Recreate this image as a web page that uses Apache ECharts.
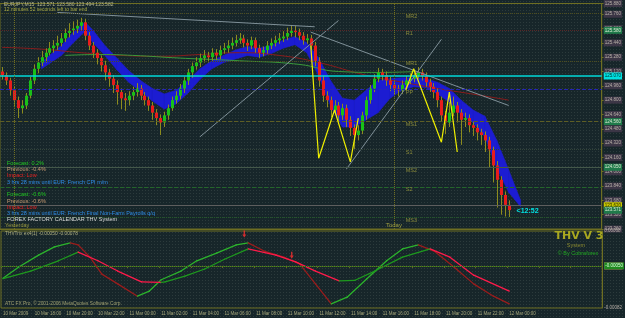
<!DOCTYPE html>
<html>
<head>
<meta charset="utf-8">
<script src="https://cdn.jsdelivr.net/npm/echarts@6/dist/echarts.min.js"></script>
<style>
  html, body { margin: 0; padding: 0; background: #16252a; }
  #chart { width: 625px; height: 318px; }
</style>
</head>
<body>
<div id="chart"></div>
<script>
// EURJPY M15, one bar per 15 minutes starting 10 Mar 16:00
const tickLabels = ['10 Mar 2009', '10 Mar 18:00', '10 Mar 20:00', '10 Mar 22:00', '11 Mar 00:00', '11 Mar 02:00',
  '11 Mar 04:00', '11 Mar 06:00', '11 Mar 08:00', '11 Mar 10:00', '11 Mar 12:00', '11 Mar 14:00',
  '11 Mar 16:00', '11 Mar 18:00', '11 Mar 20:00', '11 Mar 22:00', '12 Mar 00:00'];

const opens = [125.12,125.08,125.02,124.91,124.80,124.71,124.74,124.85,125.02,125.15,
  125.22,125.28,125.33,125.38,125.41,125.44,125.49,125.55,125.58,125.60,
  125.63,125.67,125.52,125.41,125.33,125.27,125.19,125.11,125.04,124.97,
  124.89,124.82,124.80,124.85,124.89,124.93,124.85,124.80,124.74,124.66,
  124.60,124.55,124.63,124.71,124.80,124.85,124.93,125.02,125.11,125.18,
  125.22,125.27,125.30,125.28,125.33,125.30,125.36,125.38,125.41,125.44,
  125.47,125.49,125.44,125.41,125.47,125.38,125.33,125.36,125.41,125.44,
  125.47,125.49,125.51,125.55,125.58,125.56,125.52,125.47,125.49,125.41,
  125.24,125.02,124.85,124.80,124.69,124.74,124.63,124.71,124.58,124.49,
  124.41,124.46,124.63,124.80,124.93,125.04,125.11,125.08,125.02,124.97,
  124.93,124.91,124.97,125.02,125.04,125.08,125.11,125.07,125.00,124.95,
  124.89,124.80,124.63,124.55,124.66,124.74,124.66,124.58,124.60,124.52,
  124.49,124.44,124.41,124.35,124.24,124.07,123.91,123.74,123.63];
const closes = [125.08,125.02,124.91,124.80,124.71,124.74,124.85,125.02,125.15,125.22,
  125.28,125.33,125.38,125.41,125.44,125.49,125.55,125.58,125.60,125.63,
  125.67,125.52,125.41,125.33,125.27,125.19,125.11,125.04,124.97,124.89,
  124.82,124.80,124.85,124.89,124.93,124.85,124.80,124.74,124.66,124.60,
  124.55,124.63,124.71,124.80,124.85,124.93,125.02,125.11,125.18,125.22,
  125.27,125.30,125.28,125.33,125.30,125.36,125.38,125.41,125.44,125.47,
  125.49,125.44,125.41,125.47,125.38,125.33,125.36,125.41,125.44,125.47,
  125.49,125.51,125.55,125.58,125.56,125.52,125.47,125.49,125.41,125.24,
  125.02,124.85,124.80,124.69,124.74,124.63,124.71,124.58,124.49,124.41,
  124.46,124.63,124.80,124.93,125.04,125.11,125.08,125.02,124.97,124.93,
  124.91,124.97,125.02,125.04,125.08,125.11,125.07,125.00,124.95,124.89,
  124.80,124.63,124.55,124.66,124.74,124.66,124.58,124.60,124.52,124.49,
  124.44,124.41,124.35,124.24,124.07,123.91,123.74,123.63,123.571];
const highs = [125.17,125.11,125.05,124.95,124.84,124.80,124.88,125.06,125.20,125.28,
  125.35,125.38,125.45,125.47,125.52,125.55,125.60,125.66,125.68,125.70,
  125.72,125.71,125.56,125.45,125.37,125.30,125.24,125.15,125.08,125.02,
  124.93,124.88,124.90,124.95,124.99,124.97,124.89,124.84,124.78,124.70,
  124.64,124.67,124.75,124.84,124.90,124.98,125.06,125.15,125.22,125.28,
  125.32,125.36,125.34,125.38,125.37,125.41,125.44,125.47,125.50,125.53,
  125.55,125.53,125.48,125.51,125.50,125.42,125.40,125.46,125.49,125.52,
  125.55,125.57,125.61,125.64,125.63,125.60,125.56,125.54,125.53,125.45,
  125.28,125.07,124.90,124.84,124.80,124.78,124.76,124.75,124.62,124.53,
  124.52,124.67,124.84,124.97,125.09,125.16,125.15,125.12,125.06,125.01,
  124.97,125.02,125.07,125.10,125.13,125.17,125.15,125.11,125.04,124.99,
  124.93,124.84,124.68,124.78,124.84,124.78,124.70,124.66,124.64,124.56,
  124.53,124.48,124.45,124.39,124.28,124.12,123.95,123.78,123.68];
const lows = [125.03,124.97,124.85,124.72,124.60,124.65,124.70,124.82,124.98,125.10,
  125.18,125.22,125.30,125.33,125.36,125.40,125.45,125.50,125.53,125.55,
  125.58,125.47,125.36,125.27,125.20,125.12,125.02,124.95,124.88,124.75,
  124.70,124.68,124.74,124.80,124.84,124.80,124.74,124.68,124.58,124.52,
  124.41,124.50,124.58,124.68,124.76,124.81,124.88,124.97,125.05,125.14,
  125.17,125.22,125.22,125.24,125.25,125.26,125.32,125.33,125.37,125.40,
  125.43,125.39,125.35,125.37,125.33,125.27,125.29,125.32,125.37,125.40,
  125.43,125.45,125.47,125.51,125.50,125.47,125.42,125.43,125.36,125.18,
  124.95,124.78,124.72,124.61,124.64,124.55,124.58,124.50,124.40,124.24,
  124.35,124.42,124.58,124.76,124.89,125.00,125.02,124.96,124.90,124.86,
  124.84,124.87,124.93,124.98,125.00,125.04,125.02,124.95,124.89,124.82,
  124.72,124.56,124.42,124.50,124.62,124.55,124.30,124.50,124.44,124.40,
  124.35,124.30,124.22,124.05,123.88,123.60,123.52,123.50,123.494];

// blue THV cloud
const bandIdx = [10,12,15,18,21,23,26,29,32,35,38,41,44,47,50,53,56,59,62,65,68,71,74,77,80,83,86,89,92,95,98,101,104,107,110,113,116,119,122,125,128,131];
const bandTop = [125.22,125.30,125.41,125.56,125.67,125.58,125.41,125.27,125.13,125.02,124.93,124.87,124.91,125.02,125.15,125.24,125.30,125.36,125.40,125.38,
  125.41,125.47,125.51,125.44,125.27,125.02,124.82,124.80,124.91,125.02,125.04,125.05,125.05,125.04,125.00,124.93,124.80,124.69,124.62,124.35,124.02,123.68];
const bandBot = [125.15,125.21,125.30,125.44,125.57,125.44,125.30,125.14,125.00,124.90,124.79,124.70,124.76,124.88,125.03,125.15,125.22,125.26,125.30,125.28,
  125.32,125.38,125.42,125.33,125.07,124.74,124.50,124.50,124.58,124.66,124.82,124.91,124.95,124.94,124.87,124.78,124.64,124.55,124.39,124.04,123.77,123.61];

// moving averages
const redMaIdx = [0,10,20,30,40,50,60,70,80,90,95,100,110,120,128];
const redMaVal = [125.39,125.37,125.33,125.30,125.29,125.31,125.33,125.30,125.22,125.10,125.05,125.01,124.93,124.86,124.80];
const greenMaIdx = [16,25,33,45,60,75,85,95,105];
const greenMaVal = [125.30,125.31,125.30,125.27,125.24,125.20,125.12,125.11,125.12];

// trend lines and zigzag, as [bar, price]
const trendLines = [
  [[14, 125.78], [79, 125.62]],
  [[78, 125.56], [128, 124.74]],
  [[50, 124.39], [85, 125.69]],
  [[87, 124.03], [111, 125.48]]
];
const zigzags = [
  [[78, 125.41], [80, 124.15], [84, 124.69], [88, 124.11], [90, 124.60]],
  [[102, 124.91], [104, 125.15], [111, 124.33], [113, 124.89], [115, 124.22]]
];

// pivot levels
const pivotNames = ['MR2', 'R1', 'MR1', 'PP', 'MS1', 'S1', 'MS2', 'S2', 'MS3'];
const pivotPrices = [125.77, 125.58, 125.24, 124.92, 124.56, 124.25, 124.05, 123.83, 123.49];
const cyanLevel = 125.07;
const askLevel = 123.62;
const bidLevel = 123.571;

// THVTrix oscillator
const fastIdx = [0,4,9,13,17,19,22,25,29,34,37,40,45,49,54,59,62,66,71,75,79,83,87,92,97,101,105,109,114,119,124,128];
const fastVal = [-0.00024,-0.00002,0.00021,0.00037,0.00045,0.00041,0.00017,-0.00016,-0.00035,-0.00059,-0.00049,-0.00027,-0.0001,0.0001,0.00025,0.00041,
  0.00045,0.00029,0.00017,0.00004,-0.00035,-0.00074,-0.00061,-0.00025,0.0001,0.00033,0.00041,0.00029,-0.00002,-0.00035,-0.00059,-0.00074];
const slowIdx = [0,7,14,19,24,29,35,40,41,46,51,56,62,69,74,79,85,89,94,101,108,113,119,128];
const slowVal = [-0.00025,-0.0001,0.0001,0.00027,0.0001,-0.0001,-0.00031,-0.00032,-0.00031,-0.0002,-0.00006,0.00013,0.00033,0.00021,0.00008,-0.0001,
  -0.00029,-0.00028,-0.0001,0.00017,0.00033,0.00017,-0.00018,-0.00049];
const sellArrows = [[61, 0.00062], [73, 0.00021]];
const oscLevels = [0.00056, 0, -0.0005];

const nCats = 152;
const categories = Array.from({ length: nCats }, (_, i) => i);

const chart = echarts.init(document.getElementById('chart'));

// dotted terminal backdrop
const dots = document.createElement('canvas');
dots.width = 3; dots.height = 3;
const dctx = dots.getContext('2d');
dctx.fillStyle = '#17262a'; dctx.fillRect(0, 0, 3, 3);
dctx.fillStyle = '#2c3b3c'; dctx.fillRect(1, 1, 1, 1);

const OLIVE = '#6e6e22';
const FONT = 'Liberation Sans';

const candleRows = closes.map((c, i) => [i, opens[i], c, lows[i], highs[i]]);
const bandRows = bandIdx.slice(0, -1).map((x, k) => [x, bandTop[k], bandBot[k], bandIdx[k + 1], bandTop[k + 1], bandBot[k + 1]]);
const segRows = (idx, val) => idx.slice(0, -1).map((x, k) => [x, val[k], idx[k + 1], val[k + 1]]);

function renderCandle(params, api) {
  const i = api.value(0);
  const o = api.value(1), c = api.value(2);
  const top = api.coord([i, Math.max(o, c)]);
  const bot = api.coord([i, Math.min(o, c)]);
  const hi = api.coord([i, api.value(4)]);
  const lo = api.coord([i, api.value(3)]);
  const x = Math.round(top[0]) + 0.5;
  return {
    type: 'group',
    children: [
      { type: 'line', shape: { x1: x, y1: hi[1], x2: x, y2: lo[1] }, style: { stroke: '#8c8c1e', lineWidth: 1 } },
      { type: 'rect', shape: { x: x - 1.5, y: top[1], width: 3, height: Math.max(1, bot[1] - top[1]) },
        style: { fill: c >= o ? '#18c018' : '#e81c1c' } }
    ]
  };
}

function renderBand(params, api) {
  const a1 = api.coord([api.value(0), api.value(1)]);
  const a2 = api.coord([api.value(3), api.value(4)]);
  const b2 = api.coord([api.value(3), api.value(5)]);
  const b1 = api.coord([api.value(0), api.value(2)]);
  return { type: 'polygon', shape: { points: [a1, a2, b2, b1] }, style: { fill: '#1c1cd2', stroke: '#1c1cd2', lineWidth: 0.6 } };
}

function oscRenderer(upColor, downColor) {
  return function (params, api) {
    const p0 = api.coord([api.value(0), api.value(1)]);
    const p1 = api.coord([api.value(2), api.value(3)]);
    return {
      type: 'line',
      shape: { x1: p0[0], y1: p0[1], x2: p1[0], y2: p1[1] },
      style: { stroke: api.value(3) >= api.value(1) ? upColor : downColor, lineWidth: 1.3, lineCap: 'round' }
    };
  };
}

function level(price, color, type, box, textColor, width) {
  return {
    yAxis: price,
    lineStyle: { color, type, width: width || 1 },
    label: box ? {
      show: true, position: 'end', distance: 2, formatter: price.toFixed(3),
      backgroundColor: box, color: textColor, fontSize: 4.5, fontFamily: FONT, padding: [1, 1]
    } : { show: false }
  };
}

const pivotStyles = [
  ['#4e4e1e', 'dotted', null], ['#5a2626', 'dotted', '#1f7a4a'], ['#4e4e1e', 'dotted', null], ['#2626b4', 'dashed', null],
  ['#5e5e24', 'dashed', '#1f7a4a'], ['#33443a', 'dotted', null], ['#44584a', 'solid', '#1f7a4a'],
  ['#24662a', 'dashed', null], ['#245a28', 'dotted', null]
];

const mainMarks = pivotPrices.map((p, k) => level(p, pivotStyles[k][0], pivotStyles[k][1], pivotStyles[k][2], '#d8e8d0'));
mainMarks.push(level(cyanLevel, '#00d8d8', 'solid', '#00e0e0', '#003030', 1.5));
mainMarks.push(level(askLevel, '#5e5e5e', 'solid', '#c8c800', '#202000'));
mainMarks.push(level(bidLevel, 'transparent', 'solid', '#1f7a4a', '#d8e8d0'));
mainMarks.push({ xAxis: 3, lineStyle: { color: OLIVE, type: 'dotted', width: 1 }, label: { show: false } });
mainMarks.push({ xAxis: 99, lineStyle: { color: OLIVE, type: 'dotted', width: 1 }, label: { show: false } });

const oscStyles = [['#8a2020', 'dashed', '#e02020', '#ffffff'], [OLIVE, 'dashed', '#8c8c8c', '#202020'], ['#1e701e', 'dotted', '#208a20', '#e0ffe0']];
const oscMarks = oscLevels.map((v, k) => ({
  yAxis: v,
  lineStyle: { color: oscStyles[k][0], type: oscStyles[k][1], width: 1 },
  label: { show: true, position: 'end', distance: 2, formatter: v.toFixed(5), backgroundColor: oscStyles[k][2],
    color: oscStyles[k][3], fontSize: 4.5, fontFamily: FONT, padding: [1, 1] }
}));

const option = {
  animation: false,
  backgroundColor: { image: dots, repeat: 'repeat' },
  grid: [
    { left: 0, right: 19, top: 3, height: 226, show: true, borderColor: OLIVE, borderWidth: 1 },
    { left: 0, right: 19, top: 231, height: 77, show: true, borderColor: OLIVE, borderWidth: 1 }
  ],
  xAxis: [
    { type: 'category', gridIndex: 0, data: categories, boundaryGap: true,
      axisLine: { lineStyle: { color: OLIVE } }, axisTick: { show: false }, axisLabel: { show: false }, splitLine: { show: false } },
    { type: 'category', gridIndex: 1, data: categories, boundaryGap: true,
      axisLine: { lineStyle: { color: OLIVE } },
      axisTick: { show: true, interval: 7, length: 2, lineStyle: { color: OLIVE } },
      axisLabel: { interval: 7, align: 'left', margin: 3, fontSize: 4.5, fontFamily: FONT, color: '#a6a67a',
        formatter: (v, i) => tickLabels[i / 8] || '' },
      splitLine: { show: false } }
  ],
  yAxis: [
    { type: 'value', gridIndex: 0, position: 'right', min: 123.36, max: 125.88, interval: 0.16,
      axisLine: { show: true, lineStyle: { color: OLIVE } }, axisTick: { show: true, length: 2, lineStyle: { color: OLIVE } },
      axisLabel: { fontSize: 4.5, fontFamily: FONT, color: '#b8b0a8', margin: 2, backgroundColor: '#3c3646', padding: [1, 1],
        formatter: v => v.toFixed(3) },
      splitLine: { show: false } },
    { type: 'value', gridIndex: 1, position: 'right', min: -0.00082, max: 0.00068,
      axisLine: { show: true, lineStyle: { color: OLIVE } }, axisTick: { show: false },
      axisLabel: { customValues: [0.00068, -0.00082], fontSize: 4.5, fontFamily: FONT, color: '#b8b0a8', margin: 2,
        formatter: v => v.toFixed(5) },
      splitLine: { show: false } }
  ],
  series: [
    { type: 'custom', name: 'cloud', xAxisIndex: 0, yAxisIndex: 0, renderItem: renderBand, data: bandRows,
      encode: { x: [0, 3], y: [1, 2, 4, 5] }, z: 1, silent: true },
    { type: 'line', name: 'ma red', xAxisIndex: 0, yAxisIndex: 0, smooth: true, symbol: 'none', z: 2,
      data: redMaIdx.map((x, k) => [x, redMaVal[k]]), lineStyle: { color: '#8a1c1c', width: 1 },
      markLine: { symbol: 'none', silent: true, data: mainMarks } },
    { type: 'line', name: 'ma green', xAxisIndex: 0, yAxisIndex: 0, smooth: true, symbol: 'none', z: 2,
      data: greenMaIdx.map((x, k) => [x, greenMaVal[k]]), lineStyle: { color: '#3a9a3a', width: 1 } },
    { type: 'custom', name: 'EURJPY', xAxisIndex: 0, yAxisIndex: 0, renderItem: renderCandle, data: candleRows,
      encode: { x: 0, y: [1, 2, 3, 4] }, z: 3, silent: true },
    ...trendLines.map(t => ({ type: 'line', xAxisIndex: 0, yAxisIndex: 0, symbol: 'none', z: 4, data: t,
      lineStyle: { color: '#7f9098', width: 1 } })),
    ...zigzags.map(z => ({ type: 'line', xAxisIndex: 0, yAxisIndex: 0, symbol: 'none', z: 5, data: z,
      lineStyle: { color: '#f0f000', width: 1.2 } })),
    { type: 'custom', name: 'trix fast', xAxisIndex: 1, yAxisIndex: 1, renderItem: oscRenderer('#2cb42c', '#9a1c1c'),
      data: segRows(fastIdx, fastVal), encode: { x: [0, 2], y: [1, 3] }, z: 3, silent: true },
    { type: 'custom', name: 'trix slow', xAxisIndex: 1, yAxisIndex: 1, renderItem: oscRenderer('#1e9a1e', '#ff1a4a'),
      data: segRows(slowIdx, slowVal), encode: { x: [0, 2], y: [1, 3] }, z: 3, silent: true },
    { type: 'scatter', name: 'sell', xAxisIndex: 1, yAxisIndex: 1, data: sellArrows, z: 4,
      symbol: 'path://M2,0H4V5H6L3,9L0,5H2Z', symbolSize: [4, 7], itemStyle: { color: '#ff3030' },
      markLine: { symbol: 'none', silent: true, data: oscMarks } }
  ]
};

chart.setOption(option);

function txt(x, y, text, fill, size, extra) {
  return { type: 'text', x, y, silent: true, z: 100,
    style: Object.assign({ text, fill, fontSize: size, fontFamily: FONT, verticalAlign: 'middle', align: 'left' }, extra || {}) };
}

const newsLines = [
  ['Forecast: 0.2%', '#22c822'], ['Previous: -0.4%', '#c89a72'], ['Impact: Low', '#e82222'],
  ['3 hrs 28 mins until EUR: French CPI m/m', '#2e8ce8'],
  ['Forecast: -0.6%', '#22c822'], ['Previous: -0.6%', '#c89a72'], ['Impact: Low', '#e82222'],
  ['3 hrs 28 mins until EUR: French Final Non-Farm Payrolls q/q', '#2e8ce8'],
  ['FOREX FACTORY CALENDAR THV System', '#d8d8d8']
];
const newsY = [163, 169, 175, 182, 194, 201, 207, 213, 219];

const graphics = [
  txt(4, 5, 'EURJPY,M15  123.571 123.580 123.494 123.582', '#b8b890', 5),
  txt(4, 10, '12 minutes 52 seconds left to bar end', '#a8a842', 5),
  ...newsLines.map((l, k) => txt(7, newsY[k], l[0], l[1], 5.5)),
  txt(5, 225, 'Yesterday', '#9a9a40', 5.5),
  txt(5, 234, 'THVTrix ex4(1) -0.00050 -0.00078', '#b0b080', 4.8),
  txt(5, 304, 'ATC FX Pro, \u00a9 2001-2006 MetaQuotes Software Corp.', '#a0a070', 4.8),
  txt(579, 236, 'THV V 3', '#a8a820', 11, { align: 'center', fontWeight: 'bold', fontFamily: 'DejaVu Sans' }),
  txt(576, 245, 'System', '#8a8a30', 5.5, { align: 'center' }),
  txt(578, 253, '\u00a9 By Cobraforex', '#22a822', 5.5, { align: 'center' })
];

const todayPx = chart.convertToPixel({ gridIndex: 0 }, [99, 123.5]);
graphics.push(txt(todayPx[0], 225, 'Today', '#a0a040', 6, { align: 'center' }));

pivotNames.forEach((name, k) => {
  const p = chart.convertToPixel({ gridIndex: 0 }, [102, pivotPrices[k]]);
  graphics.push(txt(p[0], p[1] + 3, name, '#8a8a3a', 5.5));
});

const lastPx = chart.convertToPixel({ gridIndex: 0 }, [130, bidLevel]);
graphics.push(txt(lastPx[0], lastPx[1] + 1, '<12:52', '#00e0e0', 7, { fontWeight: 'bold' }));

chart.setOption({ graphic: { elements: graphics } });
</script>
</body>
</html>
